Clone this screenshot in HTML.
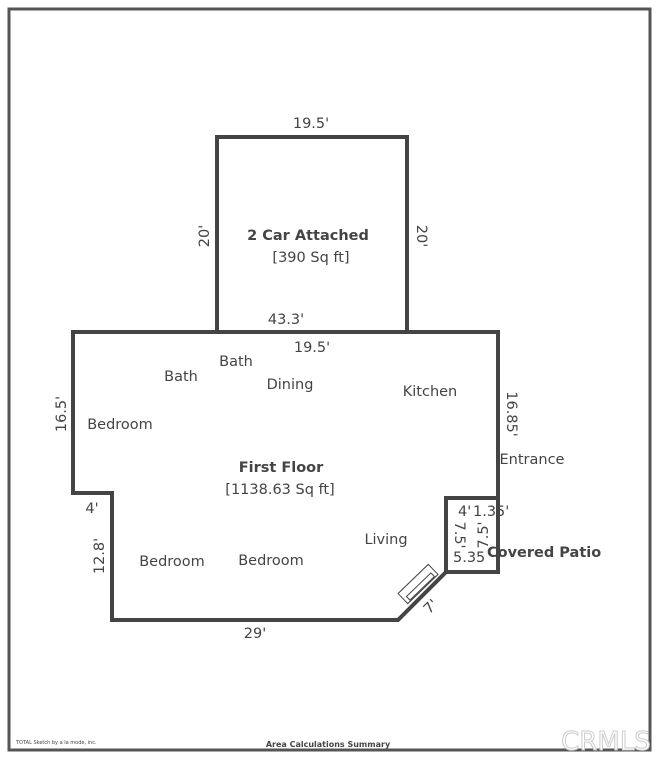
<!DOCTYPE html><html><head><style>
body{margin:0;background:#fff;width:656px;height:754px;overflow:hidden}
svg text{font-family:"DejaVu Sans","Liberation Sans",sans-serif;font-size:14.5px;fill:#444}
</style></head><body>
<svg width="656" height="754" xmlns="http://www.w3.org/2000/svg">
<rect x="9" y="9" width="641" height="741" fill="none" stroke="#555" stroke-width="3"/>
<g fill="none" stroke="#444" stroke-width="4">
<rect x="217" y="137" width="190" height="195"/>
<polygon points="73,332 498,332 498,498 446,498 446,572 398,620 112,620 112,493 73,493"/>
<rect x="446" y="498" width="52" height="74"/>
</g>
<g transform="translate(418,584) rotate(-44)" fill="none" stroke="#444" stroke-width="1">
<rect x="-21" y="-7" width="42" height="14"/><rect x="-17" y="1" width="34" height="5"/>
</g>
<text x="311" y="128" text-anchor="middle">19.5'</text>
<text x="308" y="240" text-anchor="middle" style="font-weight:bold">2 Car Attached</text>
<text x="311" y="262" text-anchor="middle">[390 Sq ft]</text>
<text transform="translate(209,236) rotate(-90)" text-anchor="middle">20'</text>
<text transform="translate(417,236) rotate(90)" text-anchor="middle">20'</text>
<text x="286" y="324" text-anchor="middle">43.3'</text>
<text x="312" y="352" text-anchor="middle">19.5'</text>
<text x="236" y="366" text-anchor="middle">Bath</text>
<text x="181" y="381" text-anchor="middle">Bath</text>
<text x="290" y="389" text-anchor="middle">Dining</text>
<text x="430" y="396" text-anchor="middle">Kitchen</text>
<text x="120" y="429" text-anchor="middle">Bedroom</text>
<text transform="translate(66,414) rotate(-90)" text-anchor="middle">16.5'</text>
<text transform="translate(507,414) rotate(90)" text-anchor="middle">16.85'</text>
<text x="532" y="464" text-anchor="middle">Entrance</text>
<text x="281" y="472" text-anchor="middle" style="font-weight:bold">First Floor</text>
<text x="280" y="494" text-anchor="middle">[1138.63 Sq ft]</text>
<text x="92" y="513" text-anchor="middle">4'</text>
<text transform="translate(104,556) rotate(-90)" text-anchor="middle">12.8'</text>
<text x="172" y="566" text-anchor="middle">Bedroom</text>
<text x="271" y="565" text-anchor="middle">Bedroom</text>
<text x="386" y="544" text-anchor="middle">Living</text>
<text x="458" y="516">4'</text>
<text x="473" y="516">1.35'</text>
<text transform="translate(455,535) rotate(90)" text-anchor="middle">7.5'</text>
<text transform="translate(488,535) rotate(-90)" text-anchor="middle">7.5'</text>
<text x="453" y="562">5.35</text>
<text x="487" y="557" style="font-weight:bold">Covered Patio</text>
<text transform="translate(434,610) rotate(-44)" text-anchor="middle">7'</text>
<text x="255" y="638" text-anchor="middle">29'</text>
<text x="16" y="744" style="font-size:5px">TOTAL Sketch by a la mode, inc.</text>
<text x="328" y="747" text-anchor="middle" style="font-size:8px;font-weight:bold">Area Calculations Summary</text>
<text x="606" y="750" text-anchor="middle" style="font-size:26px;fill:#fff;stroke:#ccc;stroke-width:1">CRMLS</text>
</svg>
</body></html>
